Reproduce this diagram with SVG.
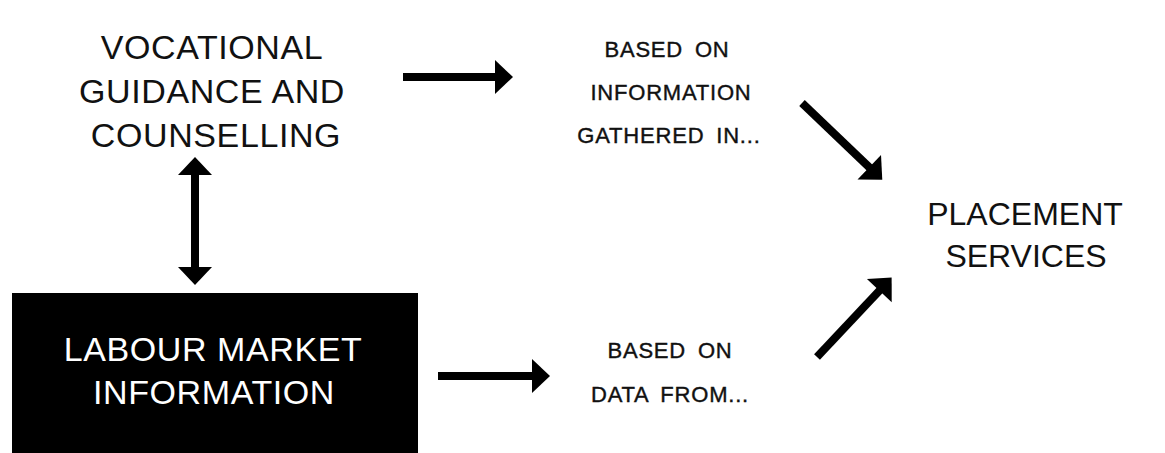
<svg xmlns="http://www.w3.org/2000/svg" width="1165" height="453" viewBox="0 0 1165 453">
  <defs>
    <style>
      .big { font-family: "Liberation Sans", Arial, sans-serif; font-size: 34px; fill: #111; text-anchor: middle; letter-spacing: 0.6px; }
      .inv { fill: #fff; }
      .small { font-family: "Liberation Sans", Arial, sans-serif; font-size: 22px; fill: #111; stroke: #111; stroke-width: 0.4; text-anchor: middle; letter-spacing: 0.8px; word-spacing: 5px; }
      .conn { stroke: #000; stroke-width: 8; fill: none; }
    </style>
    <marker id="head" markerUnits="userSpaceOnUse" markerWidth="20" markerHeight="36" viewBox="-1 -18 19 36" refX="0" refY="0" orient="auto-start-reverse">
      <path d="M-1,-17 L17,0 L-1,17 Z" fill="#000"/>
    </marker>
  </defs>
  <rect width="1165" height="453" fill="#fff"/>

  <g id="vocational-guidance">
    <text class="big" x="212" y="59">VOCATIONAL</text>
    <text class="big" x="212" y="103">GUIDANCE AND</text>
    <text class="big" x="216" y="147">COUNSELLING</text>
  </g>

  <g id="labour-market-information">
    <rect x="12" y="293" width="406" height="160" fill="#000"/>
    <text class="big inv" x="213" y="361">LABOUR MARKET</text>
    <text class="big inv" x="214" y="404">INFORMATION</text>
  </g>

  <g id="based-on-information">
    <text class="small" x="667" y="57">BASED ON</text>
    <text class="small" x="671" y="100">INFORMATION</text>
    <text class="small" x="669" y="143">GATHERED IN...</text>
  </g>

  <g id="based-on-data">
    <text class="small" x="670" y="358">BASED ON</text>
    <text class="small" x="670" y="402">DATA FROM...</text>
  </g>

  <g id="placement-services">
    <text class="big" x="1025" y="225" style="font-size:32px;letter-spacing:0">PLACEMENT</text>
    <text class="big" x="1026" y="267" style="font-size:32px;letter-spacing:0">SERVICES</text>
  </g>

  <g id="connectors">
    <line class="conn" x1="403" y1="77" x2="496" y2="77" marker-end="url(#head)"/>
    <line class="conn" x1="438" y1="376" x2="533" y2="376" marker-end="url(#head)"/>
    <line class="conn" x1="195" y1="174" x2="195" y2="268" marker-start="url(#head)" marker-end="url(#head)"/>
    <line class="conn" x1="802" y1="103" x2="870" y2="168" marker-end="url(#head)"/>
    <line class="conn" x1="817" y1="357" x2="880" y2="290" marker-end="url(#head)"/>
  </g>
</svg>
